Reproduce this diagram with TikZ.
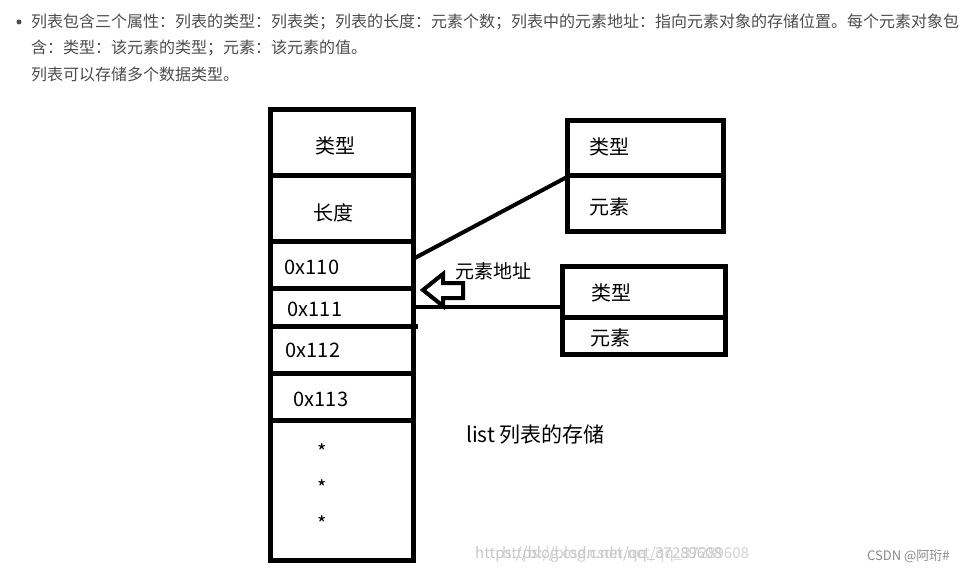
\documentclass[tikz,border=0pt]{standalone}
\usepackage{fontspec}
\setmainfont{Noto Sans CJK SC}
\definecolor{hdr}{HTML}{4D4D4D}
\definecolor{wm}{HTML}{C8C8C8}
\definecolor{csdn}{HTML}{8A8A8A}
\begin{document}
\begin{tikzpicture}[x=1pt,y=-1pt,
  box/.style={draw=black,line width=5pt},
  lbl/.style={font=\fontsize{20}{24}\selectfont,inner sep=0pt},
  hd/.style={font=\fontsize{16}{18}\selectfont,text=hdr,anchor=west,inner sep=0pt},
  conn/.style={draw=black,line width=4pt}]
\useasboundingbox[fill=white] (0,0) rectangle (966,572);
% header
\fill[hdr] (19,22) circle (2.5);
\node[hd] (h1) at (31,22) {列表包含三个属性：列表的类型：列表类；列表的长度：元素个数；列表中的元素地址：指向元素对象的存储位置。每个元素对象包};
\node[hd] (h2) at (31,48) {含：类型：该元素的类型；元素：该元素的值。};
\node[hd] (h3) at (31,74) {列表可以存储多个数据类型。};
% main list box
\draw[box] (270,110) rectangle (413,560);
\draw[box] (270,176) -- (413,176);
\draw[box] (270,241) -- (413,241);
\draw[box] (270,288) -- (413,288);
\draw[box] (270,326) -- (418,326);
\draw[box] (270,373) -- (413,373);
\draw[box] (270,420) -- (413,420);
\node[lbl] (t1) at (335,146) {类型};
\node[lbl] (t2) at (333,213) {长度};
\node[lbl] (a0) at (312,267) {0x110};
\node[lbl] (a1) at (315,309) {0x111};
\node[lbl] (a2) at (313,350) {0x112};
\node[lbl] (a3) at (321,399) {0x113};
\node[lbl] (s1) at (322,452) {*};
\node[lbl] (s2) at (322,488) {*};
\node[lbl] (s3) at (322,524) {*};
% right top element
\draw[box] (567,121) rectangle (723,231);
\draw[box] (567,176) -- (723,176);
\node[lbl] (e1t) at (609,147) {类型};
\node[lbl] (e1v) at (609,207) {元素};
% right bottom element
\draw[box] (562,266) rectangle (725,354);
\draw[box] (562,317) -- (725,317);
\node[lbl] (e2t) at (611,293) {类型};
\node[lbl] (e2v) at (610,338) {元素};
% connectors
\coordinate (c1a) at (413,259);
\coordinate (c1b) at (567,177);
\draw[conn] (c1a) -- (c1b);
\coordinate (c2a) at (413,307);
\coordinate (c2b) at (562,307);
\draw[draw=black,line width=3.5pt] (c2a) -- (c2b);
% hollow arrow
\draw[black,line width=4pt,line join=miter] (423,290) -- (443,274) -- (443,283) -- (463,283) -- (463,298) -- (443,298) -- (443,306) -- cycle;
\node[lbl,font=\fontsize{19}{22}\selectfont] (addr) at (493,271) {元素地址};
\node[lbl,anchor=west,font=\fontsize{21}{24}\selectfont] (cap) at (466,435) {list 列表的存储};
% watermarks
\node[font=\fontsize{15}{18}\selectfont,text=wm,anchor=west,inner sep=0pt] (w1) at (475,554) {https://blog.csdn.net/qq\_37289608};
\node[font=\fontsize{15}{18}\selectfont,text=wm,anchor=west,inner sep=0pt,opacity=0.8] (w2) at (502,554) {https://blog.csdn.net/qq\_37289608};
\node[font=\fontsize{13}{16}\selectfont,text=csdn,anchor=west,inner sep=0pt] (cs) at (867,556) {CSDN @阿珩\#};
\end{tikzpicture}
\end{document}
